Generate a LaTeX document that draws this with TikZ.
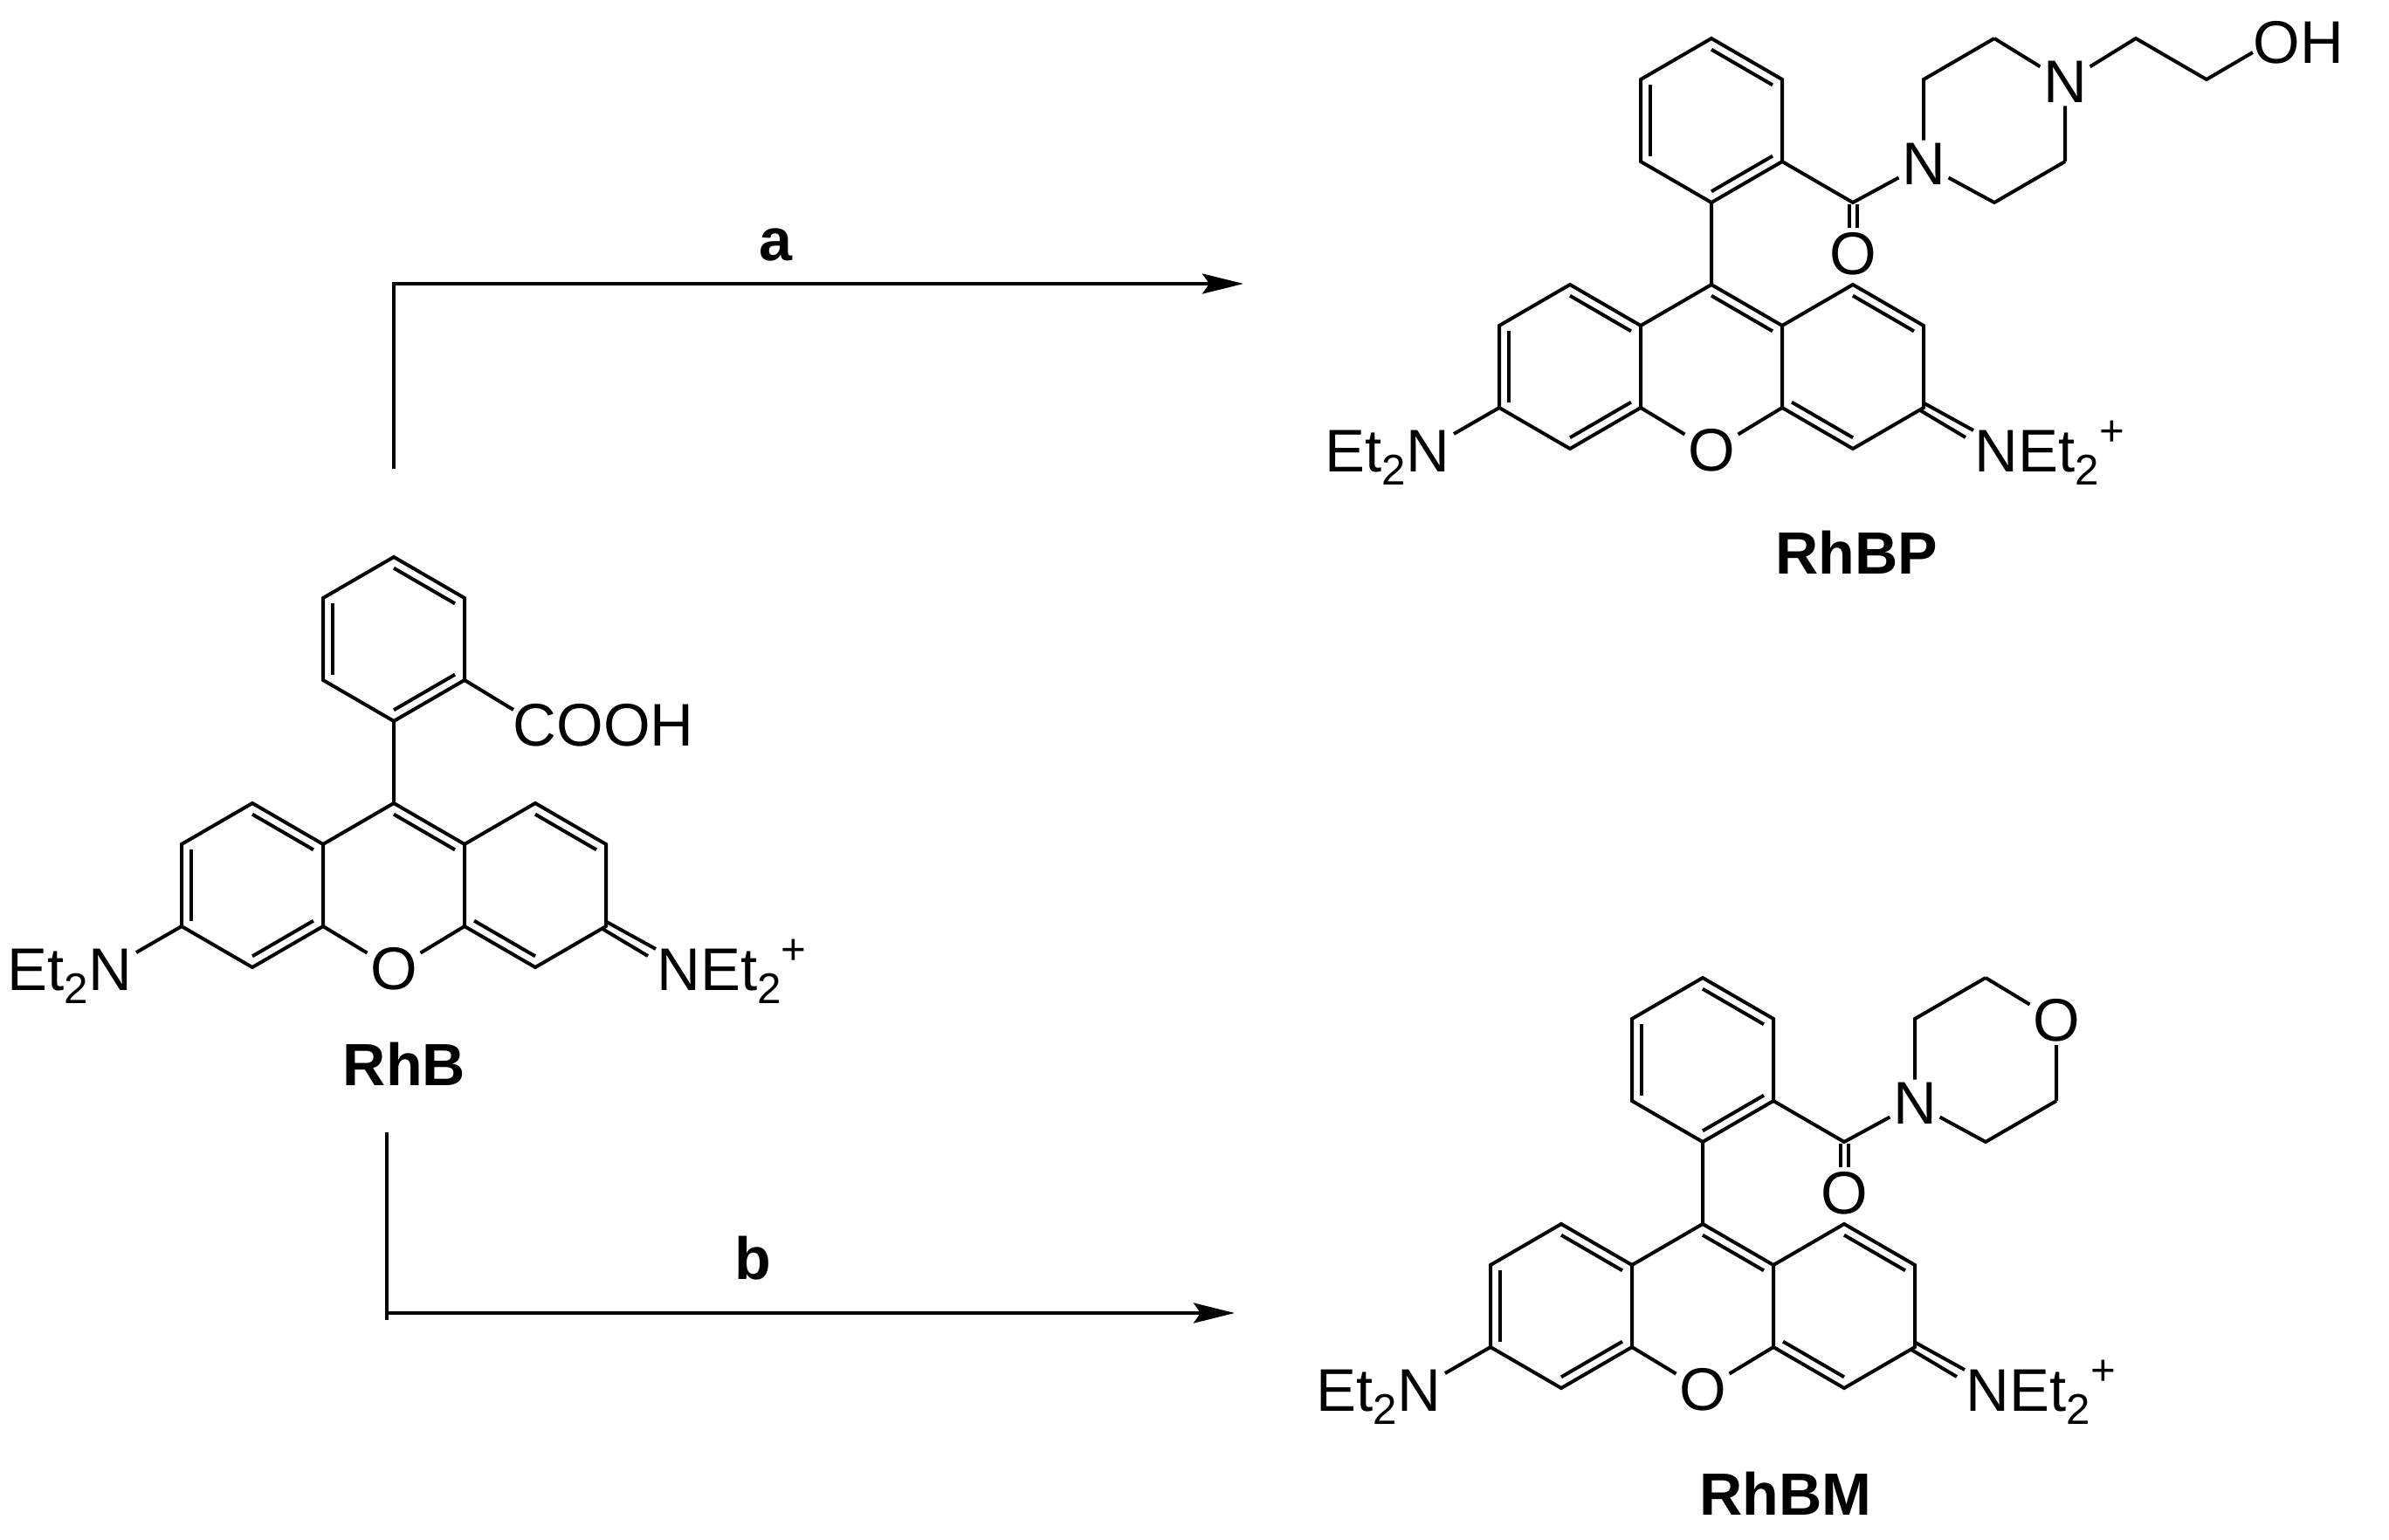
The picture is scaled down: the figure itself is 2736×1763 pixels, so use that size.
\documentclass[tikz,border=0pt]{standalone}
\usepackage{fontspec}
\setmainfont{Liberation Sans}
\usetikzlibrary{calc,arrows.meta}
\tikzset{
	bond/.style={line width=0.4mm},
	rxn/.style={line width=0.4mm,-{Stealth[length=4.7mm,width=2.3mm,inset=0.8mm]}},
	atom/.style={inner sep=0.3mm,font=\fontsize{19.6}{22}\selectfont},
	chain/.style={inner sep=0pt,anchor=base west,font=\fontsize{19.6}{22}\selectfont},
	title/.style={inner sep=0pt,anchor=base,font=\fontsize{19.4}{22}\selectfont\bfseries},
}
\def\dblbond(#1)(#2){\draw[bond] ($(#1)!.068!(#2)!1.1mm!-90:(#2)$) -- ($(#1)!.932!(#2)!1.1mm!90:(#1)$);}
\def\etwo{Et\raisebox{-4.3pt}{\fontsize{14}{16}\selectfont 2}}
\def\rhcore{%
	\coordinate (c9) at (0,0);
	\coordinate (l1) at (-81,47); \coordinate (l2) at (-81,141); \coordinate (l3) at (-162,188);
	\coordinate (l4) at (-243,141); \coordinate (l5) at (-243,47); \coordinate (l6) at (-162,0);
	\coordinate (r1) at (81,47); \coordinate (r2) at (81,141); \coordinate (r3) at (162,188);
	\coordinate (r4) at (243,141); \coordinate (r5) at (243,47); \coordinate (r6) at (162,0);
	\coordinate (p1) at (0,-94); \coordinate (p2) at (81,-141); \coordinate (p3) at (81,-235);
	\coordinate (p4) at (0,-282); \coordinate (p5) at (-81,-235); \coordinate (p6) at (-81,-141);
	\coordinate (etend) at (-295,171);
	\coordinate (ima) at (242,135); \coordinate (imb) at (300,167);
	\coordinate (imc) at (239,144); \coordinate (imd) at (291,175);
	\node[atom] (ox) at (0,190) {O};
	\node[chain] (etl) at (-443,214) {\etwo N};
	\node[chain] (etr) at (301,214) {N\etwo\raisebox{8.5pt}{\fontsize{14}{16}\selectfont +}};
	\draw[bond] (l1) -- (l6) -- (l5) -- (l4) -- (l3) -- (l2) -- cycle;
	\draw[bond] (r1) -- (r6) -- (r5) -- (r4) -- (r3) -- (r2) -- cycle;
	\draw[bond] (l1) -- (c9) -- (r1);
	\draw[bond] (l2) -- (ox) -- (r2);
	\draw[bond] (c9) -- (p1) -- (p2) -- (p3) -- (p4) -- (p5) -- (p6) -- (p1);
	\draw[bond] (l4) -- (etend);
	\draw[bond] (ima) -- (imb);
	\draw[bond] (imc) -- (imd);
	\dblbond(l6)(l1)
	\dblbond(l4)(l5)
	\dblbond(l2)(l3)
	\dblbond(c9)(r1)
	\dblbond(r6)(r5)
	\dblbond(r3)(r2)
	\dblbond(p4)(p3)
	\dblbond(p6)(p5)
	\dblbond(p2)(p1)
}
\def\rhamide{%
	\coordinate (co) at (162,-94);
	\coordinate (coa) at (157.5,-92); \coordinate (cob) at (157.5,-65);
	\coordinate (coc) at (166.5,-92); \coordinate (cod) at (166.5,-65);
	\coordinate (ra) at (243,-235); \coordinate (rb) at (324,-282);
	\coordinate (rc) at (405,-141); \coordinate (rd) at (324,-94);
	\node[atom] (ocarb) at (162,-35) {O};
	\node[atom] (nam) at (243,-138) {N};
	\draw[bond] (p2) -- (co) -- (nam) -- (ra) -- (rb);
	\draw[bond] (nam) -- (rd) -- (rc);
	\draw[bond] (coa) -- (cob);
	\draw[bond] (coc) -- (cod);
}

\begin{document}
\begin{tikzpicture}[x=0.01cm,y=-0.01cm]
	%%%%% START %%%%%
	\useasboundingbox (0,0) rectangle (2736,1763);

	\begin{scope}[shift={(451,920)},name prefix=rhb-]
		\rhcore
		\coordinate (coohend) at (137,-107);
		\node[chain] (cooh) at (136,-66) {COOH};
		\draw[bond] (p2) -- (coohend);
		\node[title] (name) at (12,323) {RhB};
	\end{scope}

	\begin{scope}[shift={(1960,326)},name prefix=bp-]
		\rhcore
		\rhamide
		\coordinate (et1) at (486,-282); \coordinate (et2) at (567,-235); \coordinate (ohend) at (620,-266);
		\node[atom] (nb) at (405,-232) {N};
		\node[chain] (oh) at (620,-254) {OH};
		\draw[bond] (rb) -- (nb) -- (rc);
		\draw[bond] (nb) -- (et1) -- (et2) -- (ohend);
		\node[title] (name) at (166,331) {RhBP};
	\end{scope}

	\begin{scope}[shift={(1950,1402)},name prefix=bm-]
		\rhcore
		\rhamide
		\node[atom] (oring) at (405,-233) {O};
		\draw[bond] (rb) -- (oring) -- (rc);
		\node[title] (name) at (95,333) {RhBM};
	\end{scope}

	\coordinate (uptail) at (450.5,537);
	\coordinate (uptip) at (1424,325);
	\draw[rxn] (uptail) |- (uptip);
	\node[title] (alabel) at (888,298) {a};

	\coordinate (dntail) at (443,1297);
	\coordinate (dnend) at (443,1512);
	\coordinate (dncorner) at (443,1504);
	\coordinate (dntip) at (1414,1504);
	\draw[bond] (dntail) -- (dnend);
	\draw[rxn] (dncorner) -- (dntip);
	\node[title] (blabel) at (862,1465) {b};

	%%%%% END %%%%%
\end{tikzpicture}
\end{document}
